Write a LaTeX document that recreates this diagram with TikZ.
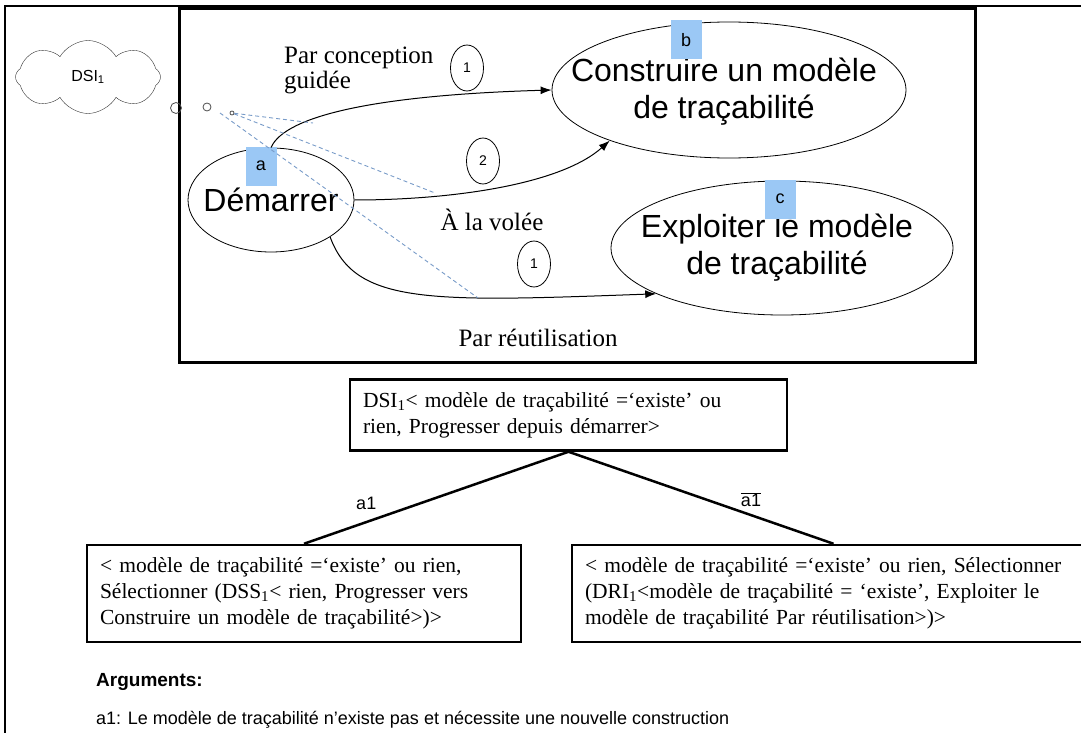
\documentclass[tikz,border=0pt]{standalone}
\usepackage{fontspec}
\setmainfont{Liberation Serif}
\setsansfont{Liberation Sans}
\usetikzlibrary{arrows.meta,shapes.geometric,shapes.symbols}
\definecolor{tagblue}{RGB}{155,200,245}
\definecolor{callblue}{RGB}{120,155,200}

\begin{document}
\begin{tikzpicture}[x=1pt, y=-1pt,
    etat/.style={draw, ellipse, line width=0.8pt, inner sep=0pt},
    etxt/.style={align=center, inner sep=0pt, font=\sffamily\fontsize{32}{37}\selectfont},
    tag/.style={fill=tagblue, minimum width=31pt, minimum height=39pt, inner sep=0pt, font=\sffamily\fontsize{18}{20}\selectfont},
    num/.style={draw, ellipse, line width=0.8pt, minimum width=33pt, minimum height=46pt, inner sep=0pt, font=\sffamily\fontsize{14}{16}\selectfont},
    bulle/.style={draw=black!70, circle, inner sep=0pt, line width=0.8pt},
    lab/.style={align=left, inner sep=0pt, font=\fontsize{25}{25}\selectfont},
    cond/.style={draw, line width=2.5pt, align=left, inner xsep=13pt, inner ysep=0pt, minimum height=71pt, font=\fontsize{21.5}{26}\selectfont},
    arr/.style={-{Latex[length=11pt, width=8pt]}, line width=1pt},
    call/.style={callblue, dash pattern=on 4pt off 3pt, line width=0.9pt},
    branche/.style={line width=2.5pt},
    lbl/.style={inner sep=0pt, font=\sffamily\fontsize{18}{20}\selectfont}
]
\useasboundingbox (0,0) rectangle (1081,733);
\draw[line width=1.5pt] (5,6) rectangle (1120,780);
\draw[line width=3pt] (179,9) rectangle (975,362);

\node[draw=black!80, cloud, cloud puffs=8, cloud puff arc=120, aspect=2, minimum width=145pt, minimum height=73pt, inner sep=0pt, font=\sffamily\fontsize{16}{18}\selectfont] (dsi) at (88,77) {DSI\textsubscript{1}};
\node[bulle, minimum size=11pt] (b1) at (176,108) {};
\node[bulle, minimum size=8pt] (b2) at (207,107) {};
\node[bulle, minimum size=4pt] (b3) at (232,113) {};

\node[etat, minimum width=166pt, minimum height=104pt] (dem) at (271,200) {};
\node[etxt] (tdem) at (dem.center) {Démarrer};
\node[etat, minimum width=354pt, minimum height=136pt] (cons) at (729,90) {};
\node[etxt] (tcons) at ([xshift=-5pt, yshift=-2pt]cons.center) {Construire un modèle\\de traçabilité};
\node[etat, minimum width=342pt, minimum height=134pt] (expl) at (782,248) {};
\node[etxt] (texpl) at ([xshift=-5pt]expl.center) {Exploiter le modèle\\de traçabilité};

\node[tag] (ta) at (261,166) {a};
\node[tag] (tb) at (686,40) {b};
\node[tag] (tc) at (780,199) {c};

\draw[arr] (dem.north) .. controls (285,115) and (380,95) .. (cons.west);
\draw[arr] (dem.east) .. controls (450,200) and (560,185) .. (cons.203);
\draw[arr] (dem.328) .. controls (355,305) and (430,302) .. (expl.200);

\node[lab, anchor=west] (lconc) at (284,70) {Par conception\\guidée};
\node[lab] (lvol) at (492,220) {À la volée};
\node[lab] (lreu) at (538,338) {Par réutilisation};
\node[num] (n1) at (467,68) {1};
\node[num] (n2) at (483,161) {2};
\node[num] (n3) at (534,264) {1};

\coordinate (c1) at (313,123);
\coordinate (c2) at (435,193);
\coordinate (c3) at (478,298);
\coordinate (q) at (220,113);
\draw[call] (b3) -- (c1);
\draw[call] (b3) -- (c2);
\draw[call] (q) -- (c3);

\node[cond, text width=411pt] (racine) at (568.5,415) {DSI\textsubscript{1}< modèle de traçabilité =‘existe’ ou\\rien, Progresser depuis démarrer>};
\node[cond, text width=408pt, minimum height=97pt] (gauche) at (304,593.5) {< modèle de traçabilité =‘existe’ ou rien,\\Sélectionner (DSS\textsubscript{1}< rien, Progresser vers\\Construire un modèle de traçabilité>)>};
\node[cond, text width=497pt, minimum height=97pt] (droite) at (833.5,593.5) {< modèle de traçabilité =‘existe’ ou rien, Sélectionner\\(DRI\textsubscript{1}<modèle de traçabilité = ‘existe’, Exploiter le\\modèle de traçabilité Par réutilisation>)>};

\draw[branche] (racine.south) -- node[lbl, xshift=-70pt, yshift=-6pt] {a1} (gauche.north);
\draw[branche] (racine.south) -- node[lbl, xshift=50pt, yshift=-2pt] {$\overline{\mbox{a1}}$} (droite.north);

\node[lbl, anchor=west, font=\sffamily\bfseries\fontsize{19}{21}\selectfont] (args) at (96,682) {Arguments:};
\node[lbl, anchor=west] (arg1) at (96,720) {a1: Le modèle de traçabilité n'existe pas et nécessite une nouvelle construction};
\end{tikzpicture}
\end{document}
